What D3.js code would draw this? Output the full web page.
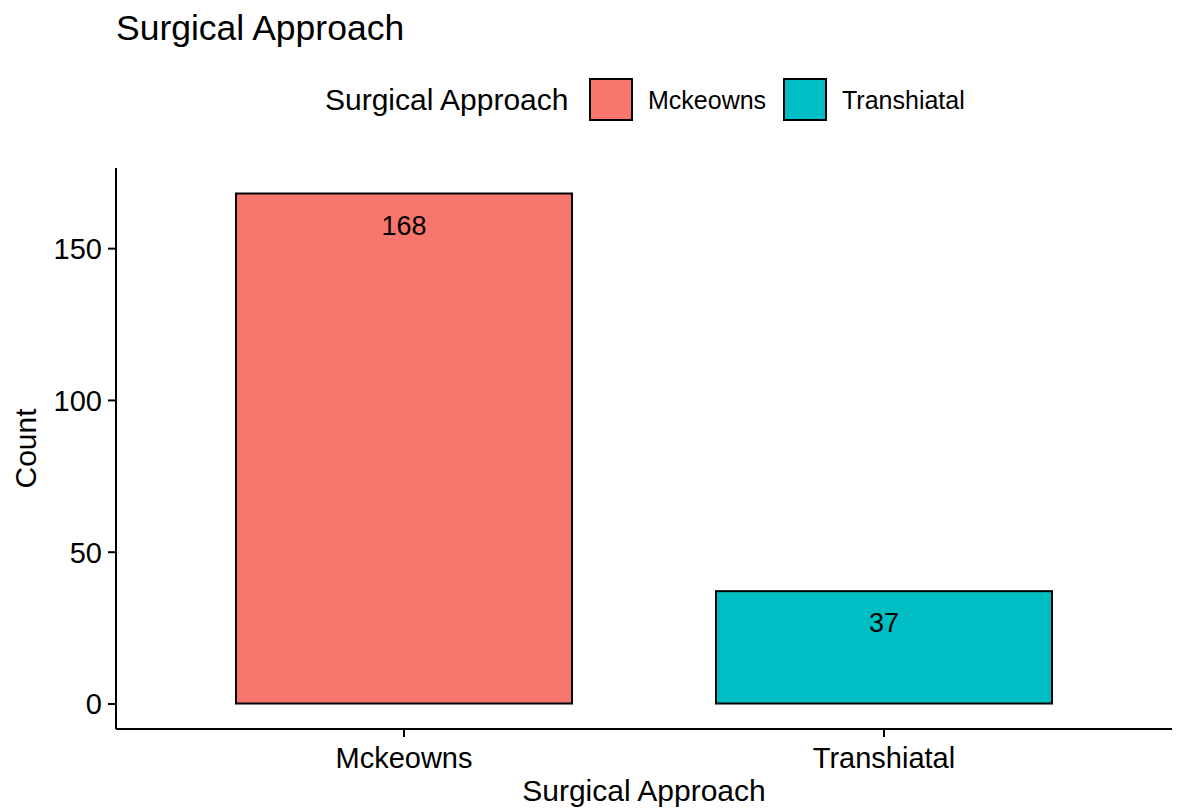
<!DOCTYPE html>
<html>
<head>
	<meta charset="utf-8">
	<style>
		body { margin: 0; background: #fff; }
		text { font-family: "Liberation Sans", Arial, Helvetica, sans-serif; fill: #000; }
	</style>
</head>
<body>
	<div id="chart"></div>

	<script src="https://cdnjs.cloudflare.com/ajax/libs/d3/7.8.5/d3.min.js"></script>
	<script>
		const categories = ['Mckeowns', 'Transhiatal'];
		const counts = [168, 37];
		const colors = ['#F8766D', '#00BFC4'];
		const yTicks = [0, 50, 100, 150];

		const W = 1180;
		const H = 812;
		const plot = { left: 116, right: 1172, top: 168, bottom: 729 };

		const svg = d3.select('#chart')
			.append('svg')
			.attr('width', W)
			.attr('height', H);

		const x = d3.scaleBand()
			.domain(categories)
			.range([plot.left, plot.right])
			.paddingInner(0.3)
			.paddingOuter(0.25);

		const maxV = d3.max(counts);
		const y = d3.scaleLinear()
			.domain([-maxV * 0.05, maxV * 1.05])
			.range([plot.bottom, plot.top]);

		// bars
		svg.selectAll('rect.bar')
			.data(categories)
			.enter()
			.append('rect')
			.attr('class', 'bar')
			.attr('x', d => x(d))
			.attr('width', x.bandwidth())
			.attr('y', (d, i) => y(counts[i]))
			.attr('height', (d, i) => y(0) - y(counts[i]))
			.attr('fill', (d, i) => colors[i])
			.attr('stroke', '#000')
			.attr('stroke-width', 2);

		// value labels
		svg.selectAll('text.val')
			.data(categories)
			.enter()
			.append('text')
			.attr('class', 'val')
			.attr('x', d => x(d) + x.bandwidth() / 2)
			.attr('y', (d, i) => y(counts[i]) + 41)
			.attr('text-anchor', 'middle')
			.style('font-size', '27px')
			.text((d, i) => counts[i]);

		// axes
		const yAxis = d3.axisLeft(y).tickValues(yTicks).tickSize(8).tickPadding(6);
		const xAxis = d3.axisBottom(x).tickSize(8).tickPadding(6);

		const gy = svg.append('g')
			.attr('transform', `translate(${plot.left}, 0)`)
			.call(yAxis);
		gy.select('.domain').attr('d', `M0,${plot.top}V${plot.bottom}`);

		const gx = svg.append('g')
			.attr('transform', `translate(0, ${plot.bottom})`)
			.call(xAxis);
		gx.select('.domain').attr('d', `M${plot.left},0H${plot.right}`);

		[gx, gy].forEach(g => {
			g.selectAll('.domain, .tick line').attr('stroke', '#000').attr('stroke-width', 2);
			g.selectAll('.tick text').style('font-size', '29px').attr('fill', '#000');
		});
		gy.selectAll('.tick text').attr('dy', '0.36em');
		gx.selectAll('.tick text').attr('dy', '0.85em');

		// axis titles
		svg.append('text')
			.attr('x', (plot.left + plot.right) / 2)
			.attr('y', 801)
			.attr('text-anchor', 'middle')
			.style('font-size', '30px')
			.text('Surgical Approach');

		svg.append('text')
			.attr('transform', `translate(36, ${(plot.top + plot.bottom) / 2}) rotate(-90)`)
			.attr('text-anchor', 'middle')
			.style('font-size', '30px')
			.text('Count');

		// title
		svg.append('text')
			.attr('x', 116)
			.attr('y', 40)
			.style('font-size', '35.5px')
			.text('Surgical Approach');

		// legend
		const legend = svg.append('g');
		legend.append('text')
			.attr('x', 325)
			.attr('y', 110)
			.style('font-size', '30px')
			.text('Surgical Approach');

		const keyX = [590, 784];
		const items = legend.selectAll('g.item')
			.data(categories)
			.enter()
			.append('g')
			.attr('class', 'item')
			.attr('transform', (d, i) => `translate(${keyX[i]}, 79)`);

		items.append('rect')
			.attr('width', 42)
			.attr('height', 41)
			.attr('fill', (d, i) => colors[i])
			.attr('stroke', '#000')
			.attr('stroke-width', 2);

		items.append('text')
			.attr('x', 58)
			.attr('y', 30)
			.style('font-size', '25px')
			.text(d => d);
	</script>
</body>
</html>
